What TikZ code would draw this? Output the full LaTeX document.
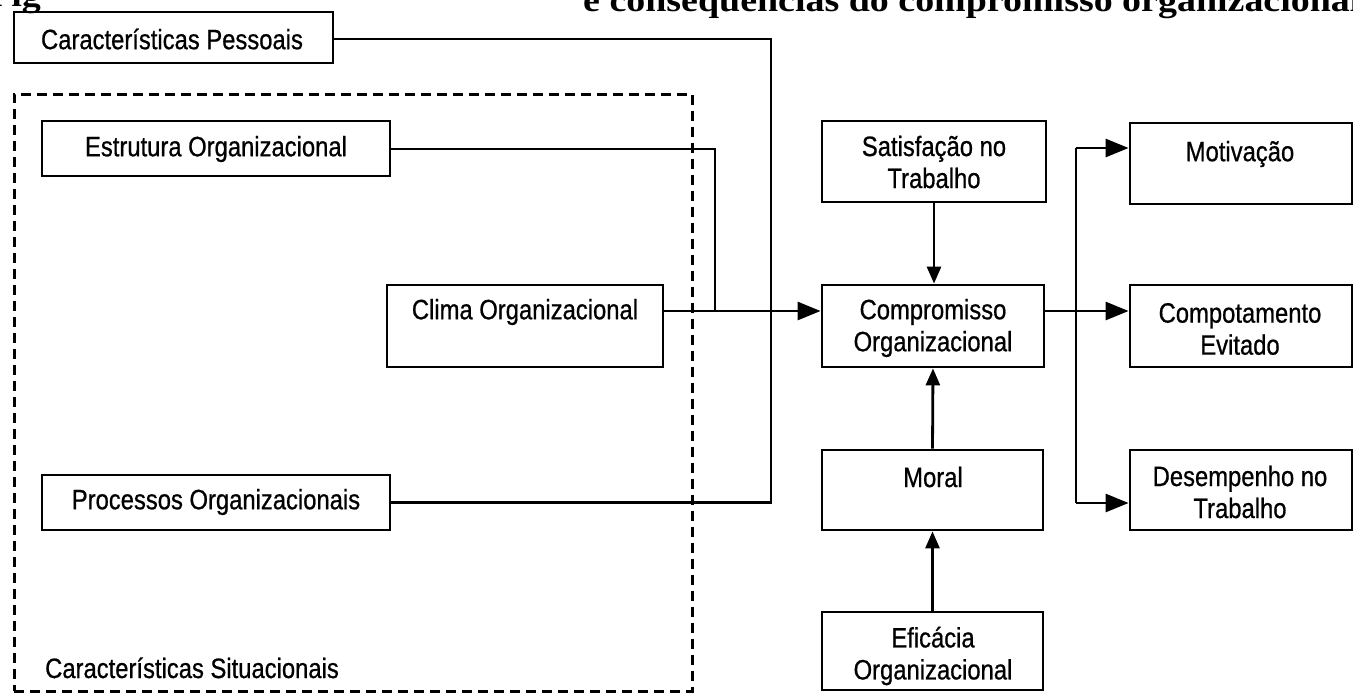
\documentclass[tikz,border=0pt]{standalone}
\usepackage{fontspec}
\setmainfont{Liberation Sans}[FakeStretch=0.85,FakeBold=0.7]
\newfontfamily\titlefont{Liberation Serif}[FakeStretch=1.15]
\usetikzlibrary{arrows.meta}
\begin{document}
\begin{tikzpicture}[x=1pt,y=-1pt,
  box/.style={draw, line width=2.8pt, inner sep=0pt},
  lbl/.style={inner sep=0pt, align=center, font=\fontsize{28pt}{32pt}\selectfont},
  conn/.style={line width=2.8pt},
  arr/.style={conn, -{Triangle[length=23pt,width=18pt]}},
  varr/.style={conn, -{Triangle[length=17pt,width=14pt]}},
  dashbox/.style={draw, line width=3pt, dash pattern=on 10pt off 6pt, inner sep=0pt}]
\useasboundingbox (0,0) rectangle (1353,694);
\begin{scope}
\clip (0,0) rectangle (1353,694);
\node[anchor=base west, inner sep=0pt, font=\titlefont\bfseries\fontsize{33pt}{33pt}\selectfont] (fig) at (-12,6) {Fig};
\node[anchor=base west, inner sep=0pt, font=\titlefont\bfseries\fontsize{33pt}{33pt}\selectfont] (title) at (583,11) {e consequências do compromisso organizacional};
% situational frame
\node[dashbox, minimum width=678pt, minimum height=597pt] (sit) at (353,392.5) {};
\node[lbl, anchor=base west] (sit-t) at (45,678) {Características Situacionais};
% left boxes
\node[box, minimum width=319pt, minimum height=51pt] (pess) at (173.5,37.5) {};
\node[lbl] (pess-t) at (172,39) {Características Pessoais};
\node[box, minimum width=348pt, minimum height=55pt] (estr) at (216,148.5) {};
\node[lbl] (estr-t) at (216,149) {Estrutura Organizacional};
\node[box, minimum width=276pt, minimum height=82pt] (clima) at (525,326) {};
\node[lbl] (clima-t) at (525,312) {Clima Organizacional};
\node[box, minimum width=348pt, minimum height=55pt] (proc) at (216,502.5) {};
\node[lbl] (proc-t) at (216,502) {Processos Organizacionais};
% middle column
\node[box, minimum width=224pt, minimum height=81pt] (sat) at (934,161.5) {};
\node[lbl] (sat-t) at (934,162) {Satisfação no\\Trabalho};
\node[box, minimum width=222pt, minimum height=82pt] (comp) at (933,326) {};
\node[lbl] (comp-t) at (933,328) {Compromisso\\Organizacional};
\node[box, minimum width=221pt, minimum height=80pt] (moral) at (932.5,490) {};
\node[lbl] (moral-t) at (933,477) {Moral};
\node[box, minimum width=221pt, minimum height=78pt] (efic) at (932.5,651) {};
\node[lbl] (efic-t) at (933,656) {Eficácia\\Organizacional};
% right column
\node[box, minimum width=222pt, minimum height=81pt] (motiv) at (1241,163.5) {};
\node[lbl] (motiv-t) at (1240,154) {Motivação};
\node[box, minimum width=222pt, minimum height=82pt] (compot) at (1241,326) {};
\node[lbl] (compot-t) at (1240,329) {Compotamento\\Evitado};
\node[box, minimum width=222pt, minimum height=80pt] (desemp) at (1241,490) {};
\node[lbl] (desemp-t) at (1240,492) {Desempenho no\\Trabalho};
% junctions
\coordinate (jE) at (715,311);
\coordinate (jS) at (715,149);
\coordinate (jP) at (771,39);
\coordinate (jC) at (1076,311);
\coordinate (jT) at (1076,148);
\coordinate (jB) at (1076,503);
% connectors
\draw[conn] (pess.east |- jP) -- (jP) |- (proc.east);
\draw[conn] (estr.east |- jS) -- (jS) -- (jE);
\draw[arr] (clima.east |- jE) -- (comp.west |- jE);
\draw[varr] (sat.south) -- (sat.south |- comp.north);
\draw[varr] (moral.north) -- (comp.south);
\draw[varr] (efic.north) -- (moral.south);
\draw[conn] (comp.east |- jC) -- (jC);
\draw[conn] (jT) -- (jB);
\draw[arr] (jT) -- (motiv.west |- jT);
\draw[arr] (jC) -- (compot.west |- jC);
\draw[arr] (jB) -- (desemp.west |- jB);
\end{scope}
\end{tikzpicture}
\end{document}
